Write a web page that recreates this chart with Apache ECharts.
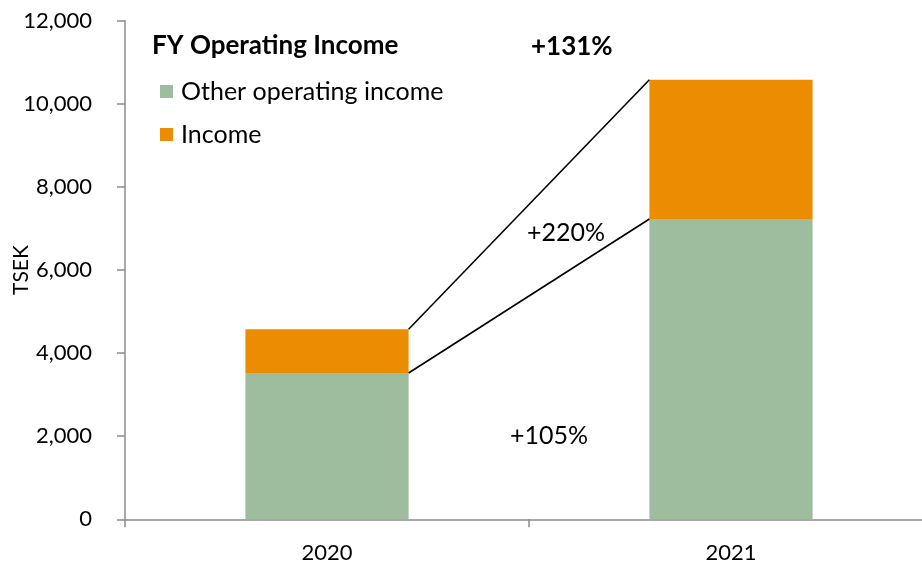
<!DOCTYPE html>
<html>
<head>
<meta charset="utf-8">
<script src="https://cdn.jsdelivr.net/npm/echarts@6/dist/echarts.min.js"></script>
<style>html,body{margin:0;padding:0;background:#fff}#c{width:922px;height:564px}</style>
</head>
<body>
<div id="c"></div>
<script>
const categories = ['2020', '2021'];
const otherIncome = [3521, 7227];
const income = [1052, 3353];
const yTicks = [0, 2000, 4000, 6000, 8000, 10000, 12000];
const changeLabels = ['+131%', '+220%', '+105%'];
const titleText = 'FY Operating Income';
const seriesNames = ['Other operating income', 'Income'];

const FONT = 'Lato';
const BAR_RATIO = 0.404;
const totals = categories.map((c, i) => otherIncome[i] + income[i]);

const chart = echarts.init(document.getElementById('c'));
chart.setOption({
  animation: false,
  textStyle: { fontFamily: FONT },
  grid: { left: 125, right: -11, top: 20.7, bottom: 44.7, containLabel: false, outerBoundsMode: 'none' },
  title: {
    text: titleText, left: 152, top: 33, padding: 0,
    textStyle: { fontFamily: FONT, fontSize: 26, fontWeight: 'bold', color: '#000' }
  },
  legend: {
    orient: 'vertical', left: 160, top: 79, padding: 0, itemWidth: 13, itemHeight: 13, itemGap: 18,
    icon: 'rect',
    data: seriesNames,
    textStyle: { fontFamily: FONT, fontSize: 25, lineHeight: 24, color: '#000', padding: [0, 0, 0, 3] }
  },
  xAxis: {
    type: 'category', data: categories,
    axisLine: { lineStyle: { color: '#8c8c8c', width: 1.5 } },
    axisTick: { show: true, length: 8, lineStyle: { color: '#8c8c8c', width: 1.5 } },
    axisLabel: { fontFamily: FONT, fontSize: 22, color: '#000', margin: 23 }
  },
  yAxis: {
    type: 'value', min: yTicks[0], max: yTicks[yTicks.length - 1], interval: yTicks[1] - yTicks[0],
    name: 'TSEK', nameLocation: 'middle', nameRotate: 90, nameGap: 93, nameMoveOverlap: false,
    nameTextStyle: { fontFamily: FONT, fontSize: 21, color: '#000' },
    axisLine: { show: true, lineStyle: { color: '#8c8c8c', width: 1.5 } },
    axisTick: { show: true, length: 8, lineStyle: { color: '#8c8c8c', width: 1.5 } },
    splitLine: { show: false },
    axisLabel: {
      fontFamily: FONT, fontSize: 22, color: '#000', margin: 33,
      formatter: v => v.toLocaleString('en-US')
    }
  },
  series: [
    {
      name: seriesNames[0], type: 'bar', stack: 'a', data: otherIncome,
      barWidth: (BAR_RATIO * 100) + '%', itemStyle: { color: '#9EBC9E' }
    },
    {
      name: seriesNames[1], type: 'bar', stack: 'a', data: income,
      barWidth: (BAR_RATIO * 100) + '%', itemStyle: { color: '#EC8C00' }
    },
    {
      type: 'custom', silent: true, z: 5,
      data: [[0, 1, otherIncome[0], otherIncome[1]], [0, 1, totals[0], totals[1]]],
      renderItem: function (params, api) {
        const p0 = api.coord([api.value(0), api.value(2)]);
        const p1 = api.coord([api.value(1), api.value(3)]);
        const half = api.size([1, 0])[0] * BAR_RATIO / 2;
        return {
          type: 'line',
          shape: { x1: p0[0] + half, y1: p0[1], x2: p1[0] - half, y2: p1[1] },
          style: { stroke: '#000', lineWidth: 1.6 }
        };
      }
    }
  ],
  graphic: [
    { type: 'text', left: 531, top: 34, style: { text: changeLabels[0], fontFamily: FONT, fontSize: 26, fontWeight: 'bold', fill: '#000' } },
    { type: 'text', left: 527, top: 220, style: { text: changeLabels[1], fontFamily: FONT, fontSize: 25, fill: '#000' } },
    { type: 'text', left: 510, top: 423, style: { text: changeLabels[2], fontFamily: FONT, fontSize: 25, fill: '#000' } }
  ]
});
</script>
</body>
</html>
